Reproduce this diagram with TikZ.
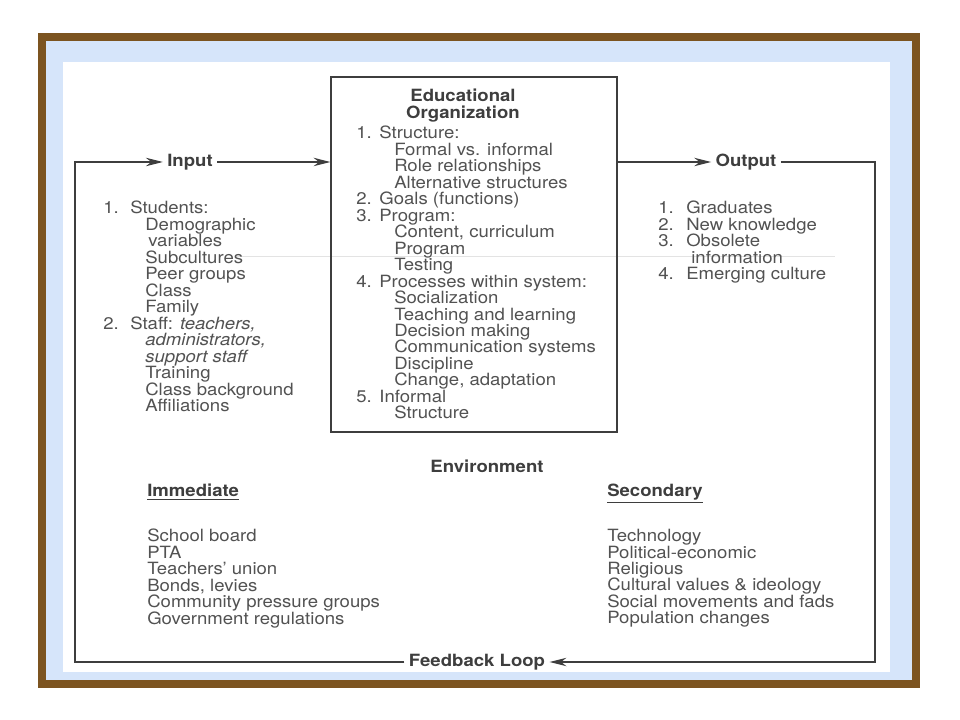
\documentclass[tikz,border=0pt]{standalone}
\usepackage{fontspec}
\setmainfont{TeX Gyre Heros}[FakeStretch=1.1]
\usepackage{tikz}
\usetikzlibrary{arrows.meta,positioning}
\usepackage{xcolor}
\definecolor{frbrown}{RGB}{124,84,32}
\definecolor{frblue}{RGB}{214,229,250}
\definecolor{lineink}{RGB}{62,62,62}
\definecolor{textink}{RGB}{82,82,82}
\newcommand\listfont{\fontsize{12}{11.71}\selectfont}
\newcommand\itemno[2]{\makebox[#1][l]{#2}}
\tikzstyle{orgbox} = [rectangle, draw=lineink, line width=0.8pt, inner sep=0pt]
\tikzstyle{label} = [font=\listfont\bfseries, text=lineink, inner sep=3pt]
\tikzstyle{listing} = [font=\listfont, text=textink, align=left, anchor=north west, inner sep=0pt]
\tikzstyle{line} = [line width=0.8pt, color=lineink]
\tikzstyle{arrow} = [line width=0.8pt, -{Stealth[length=12pt,width=6pt]}, color=lineink]

\begin{document}
\begin{tikzpicture}[x=0.025cm, y=-0.025cm]
\useasboundingbox (0,0) rectangle (960,720);
% frame and paper
\fill[frbrown] (38,33) rectangle (920,688);
\fill[frblue] (46,41) rectangle (912,680);
\fill[white] (63,62) rectangle (890,672);
% faint scan line
\draw[gray!22, line width=0.5pt] (235,256) -- (835,256);

% the organization box
\node[orgbox, minimum width=286*0.025cm, minimum height=355*0.025cm] (org) at (474,254.5) {};
\node[label, align=center, anchor=north, inner sep=0pt] (orgtitle) at (463,89) {Educational\\Organization};
\node[listing] (orglist) at (356,126) {%
\itemno{16.4pt}{1.}Structure:\\
\hspace*{27pt}Formal vs. informal\\
\hspace*{27pt}Role relationships\\
\hspace*{27pt}Alternative structures\\
\itemno{16.4pt}{2.}Goals (functions)\\
\itemno{16.4pt}{3.}Program:\\
\hspace*{27pt}Content, curriculum\\
\hspace*{27pt}Program\\
\hspace*{27pt}Testing\\
\itemno{16.4pt}{4.}Processes within system:\\
\hspace*{27pt}Socialization\\
\hspace*{27pt}Teaching and learning\\
\hspace*{27pt}Decision making\\
\hspace*{27pt}Communication systems\\
\hspace*{27pt}Discipline\\
\hspace*{27pt}Change, adaptation\\
\itemno{16.4pt}{5.}Informal\\
\hspace*{27pt}Structure};

% input and output
\node[label] (inp) at (190,162) {Input};
\node[label] (outp) at (746,162) {Output};
\node[label] (fb) at (477,662) {Feedback Loop};
\coordinate (cTL) at (75,162);
\coordinate (cBL) at (75,662);
\coordinate (cTR) at (875,162);
\coordinate (cBR) at (875,662);

\node[listing] (inlist) at (103,201) {%
\itemno{19.2pt}{1.}Students:\\
\hspace*{29.9pt}Demographic\\
\hspace*{32pt}variables\\
\hspace*{29.9pt}Subcultures\\
\hspace*{29.9pt}Peer groups\\
\hspace*{29.9pt}Class\\
\hspace*{29.9pt}Family\\
\itemno{19.2pt}{2.}Staff: \textit{teachers,}\\
\hspace*{29.9pt}\textit{administrators,}\\
\hspace*{29.9pt}\textit{support staff}\\
\hspace*{29.9pt}Training\\
\hspace*{29.9pt}Class background\\
\hspace*{29.9pt}Affiliations};

\node[listing] (outlist) at (658,201) {%
\itemno{19.9pt}{1.}Graduates\\
\itemno{19.9pt}{2.}New knowledge\\
\itemno{19.9pt}{3.}Obsolete\\
\hspace*{23.5pt}information\\
\itemno{19.9pt}{4.}Emerging culture};

% environment
\node[label] (env) at (487,466) {Environment};
\node[label, anchor=base west, inner sep=0pt] (imm) at (147,497) {\underline{Immediate}};
\node[label, anchor=base west, inner sep=0pt] (sec) at (607,497) {\underline{Secondary}};
\node[listing] (immlist) at (147,529) {%
School board\\
PTA\\
Teachers' union\\
Bonds, levies\\
Community pressure groups\\
Government regulations};
\node[listing] (seclist) at (607,529) {%
Technology\\
Political-economic\\
Religious\\
Cultural values \& ideology\\
Social movements and fads\\
Population changes};

% connectors
\draw[arrow] (inp) -- (inp -| org.west);
\draw[arrow] (inp -| org.east) -- (outp);
\draw[arrow] (outp) -- (cTR) -- (cBR) -- (fb);
\draw[arrow] (fb) -- (cBL) -- (cTL) -- (inp);
\end{tikzpicture}
\end{document}
